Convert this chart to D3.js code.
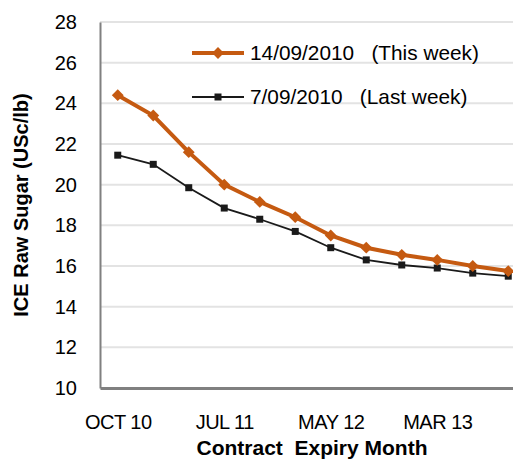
<!DOCTYPE html>
<html>
<head>
<meta charset="utf-8">
<script src="https://cdn.jsdelivr.net/npm/d3@7"></script>
<style>
  body { margin: 0; background: #fff; }
  svg { display: block; font-family: "Liberation Sans", Arial, sans-serif; }
</style>
</head>
<body>
<script>
const months = ["OCT 10", "MAR 11", "MAY 11", "JUL 11", "OCT 11", "MAR 12",
                "MAY 12", "JUL 12", "OCT 12", "MAR 13", "MAY 13", "JUL 13"];
const tickLabels = ["OCT 10", "JUL 11", "MAY 12", "MAR 13"];
const thisWeek = [24.4, 23.4, 21.6, 20.0, 19.15, 18.4, 17.5, 16.9, 16.55, 16.3, 16.0, 15.75];
const lastWeek = [21.45, 21.0, 19.85, 18.85, 18.3, 17.7, 16.9, 16.3, 16.05, 15.9, 15.65, 15.5];
const yTicks = [10, 12, 14, 16, 18, 20, 22, 24, 26, 28];

const width = 513, height = 459;
const margin = {left: 100, top: 22, bottom: 71};

const svg = d3.select("body").append("svg")
    .attr("width", width)
    .attr("height", height);

const x = d3.scalePoint()
    .domain(months)
    .range([margin.left, 526])
    .padding(0.5);

const y = d3.scaleLinear()
    .domain([10, 28])
    .range([height - margin.bottom, margin.top]);

// gridlines
svg.append("g")
    .selectAll("line")
    .data(yTicks.slice(1))
    .enter()
    .append("line")
        .attr("x1", margin.left)
        .attr("x2", width)
        .attr("y1", d => y(d))
        .attr("y2", d => y(d))
        .attr("stroke", "#e3e3e3")
        .attr("stroke-width", 2);

// y axis labels
const yAxis = d3.axisLeft(y).tickValues(yTicks).tickSize(0).tickPadding(23);
const gy = svg.append("g")
    .attr("transform", "translate(" + margin.left + ",0)")
    .call(yAxis);
gy.select(".domain").attr("stroke", "#808080").attr("stroke-width", 2);
gy.selectAll("text")
    .attr("font-size", 20)
    .attr("font-family", "Liberation Sans, Arial, sans-serif")
    .attr("fill", "#000");

// x axis
const xAxis = d3.axisBottom(x).tickValues(tickLabels).tickSize(0).tickPadding(27);
const gx = svg.append("g")
    .attr("transform", "translate(0," + y(10) + ")")
    .call(xAxis);
gx.select(".domain").attr("stroke", "#808080").attr("stroke-width", 3);
gx.selectAll("text")
    .attr("font-size", 20)
    .attr("font-family", "Liberation Sans, Arial, sans-serif")
    .attr("letter-spacing", -0.5)
    .attr("fill", "#000");

// axis titles
svg.append("text")
    .attr("transform", "translate(28,205) rotate(-90)")
    .attr("text-anchor", "middle")
    .attr("font-size", 20)
    .attr("font-weight", "bold")
    .text("ICE Raw Sugar (USc/lb)");

svg.append("text")
    .attr("x", 312)
    .attr("y", 455)
    .attr("text-anchor", "middle")
    .attr("font-size", 21)
    .attr("font-weight", "bold")
    .style("white-space", "pre")
    .text("Contract  Expiry Month");

// lines
const line = d3.line()
    .x((d, i) => x(months[i]))
    .y(d => y(d));

const orange = "#c55a11";
const diamond = d3.symbol().type(d3.symbolSquare).size(70);

svg.append("path")
    .datum(lastWeek)
    .attr("fill", "none")
    .attr("stroke", "#1a1a1a")
    .attr("stroke-width", 1.8)
    .attr("d", line);

svg.append("g")
    .selectAll("rect")
    .data(lastWeek)
    .enter()
    .append("rect")
        .attr("x", (d, i) => x(months[i]) - 3.5)
        .attr("y", d => y(d) - 3.5)
        .attr("width", 7)
        .attr("height", 7)
        .attr("fill", "#1a1a1a");

svg.append("path")
    .datum(thisWeek)
    .attr("fill", "none")
    .attr("stroke", orange)
    .attr("stroke-width", 4)
    .attr("d", line);

svg.append("g")
    .selectAll("path")
    .data(thisWeek)
    .enter()
    .append("path")
        .attr("transform", (d, i) => "translate(" + x(months[i]) + "," + y(d) + ") rotate(45)")
        .attr("d", diamond)
        .attr("fill", orange);

// legend
const legend = svg.append("g");
legend.append("line")
    .attr("x1", 192).attr("x2", 244)
    .attr("y1", 53).attr("y2", 53)
    .attr("stroke", orange).attr("stroke-width", 4);
legend.append("path")
    .attr("transform", "translate(218,53) rotate(45)")
    .attr("d", diamond)
    .attr("fill", orange);
legend.append("text")
    .attr("x", 250).attr("y", 60)
    .attr("font-size", 20.8)
    .style("white-space", "pre")
    .text("14/09/2010   (This week)");

legend.append("line")
    .attr("x1", 192).attr("x2", 244)
    .attr("y1", 97).attr("y2", 97)
    .attr("stroke", "#1a1a1a").attr("stroke-width", 1.8);
legend.append("rect")
    .attr("x", 214.5).attr("y", 93.5)
    .attr("width", 7).attr("height", 7)
    .attr("fill", "#1a1a1a");
legend.append("text")
    .attr("x", 250).attr("y", 104)
    .attr("font-size", 20.8)
    .style("white-space", "pre")
    .text("7/09/2010   (Last week)");
</script>
</body>
</html>
